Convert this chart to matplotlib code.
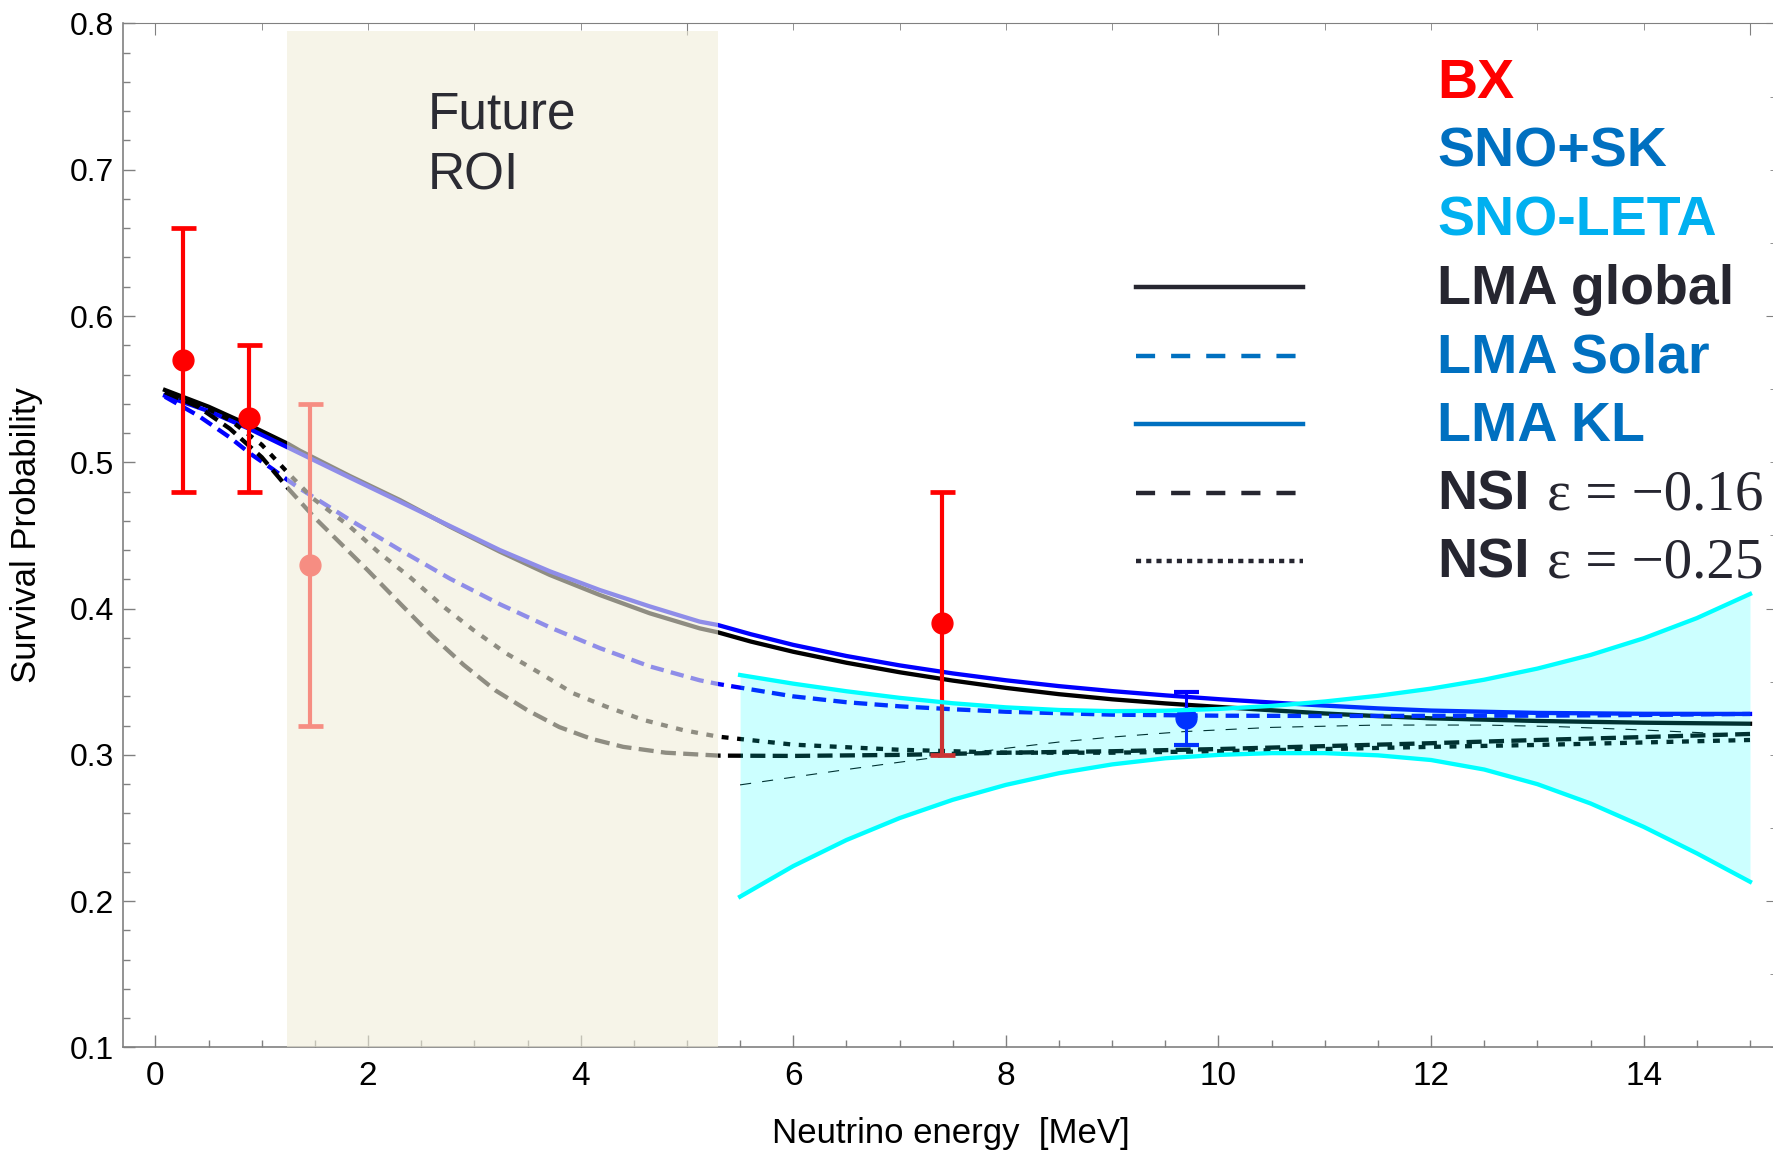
import matplotlib.pyplot as plt
from matplotlib.patches import Rectangle
from matplotlib.ticker import MultipleLocator

plt.rcParams["font.family"] = ["Liberation Sans", "DejaVu Sans"]
SERIF = ["Liberation Serif", "DejaVu Serif"]

# Survival probability curves, energy in MeV
lma_global_e = [0.09, 0.5, 0.88, 1.25, 1.36, 1.83, 2.3, 2.77, 3.24, 3.71, 4.18, 4.65, 5.12,
                5.29, 5.6, 6.0, 6.5, 7.0, 7.5, 8.0, 8.5, 9.0, 9.5, 10.0, 10.5, 11.0, 11.5,
                12.0, 13.0, 14.0, 15.0]
lma_global_p = [0.5494, 0.538, 0.5255, 0.5125, 0.5079, 0.4906, 0.4742, 0.456, 0.4389, 0.423,
                0.4093, 0.3968, 0.3865, 0.3838, 0.3775, 0.3705, 0.3630, 0.3565, 0.3508, 0.3458,
                0.3415, 0.3380, 0.3352, 0.3328, 0.3305, 0.3283, 0.3265, 0.3250, 0.3232, 0.3220,
                0.3213]

lma_kl_e = lma_global_e
lma_kl_p = [0.5455, 0.535, 0.523, 0.510, 0.5061, 0.4895, 0.4731, 0.4565, 0.440, 0.4255,
            0.4127, 0.4015, 0.3911, 0.3888, 0.3825, 0.3752, 0.3676, 0.3612, 0.3557, 0.3510,
            0.3470, 0.3436, 0.3407, 0.3381, 0.3358, 0.3337, 0.3318, 0.3303, 0.3287, 0.3281,
            0.3280]

lma_solar_e = [0.09, 0.4, 0.7, 0.9, 1.1, 1.25, 1.36, 1.83, 2.3, 2.77, 3.24, 3.71, 4.18, 4.65,
               5.12, 5.29, 6.0, 6.5, 7.0, 7.5, 8.0, 9.0, 10.0, 11.0, 12.0, 13.0, 14.0, 15.0]
lma_solar_p = [0.5448, 0.532, 0.517, 0.5055, 0.4955, 0.4875, 0.482, 0.4606, 0.4401, 0.4205,
               0.4030, 0.3872, 0.3730, 0.3605, 0.3510, 0.3485, 0.3400, 0.3360, 0.3332, 0.3312,
               0.3295, 0.3275, 0.3268, 0.3266, 0.3267, 0.3268, 0.3273, 0.3280]

nsi16_e = [0.09, 0.4, 0.7, 1.0, 1.25, 1.5, 1.75, 2.0, 2.3, 2.6, 2.9, 3.2, 3.5, 3.8, 4.1, 4.4,
           4.8, 5.3, 6.0, 7.0, 8.0, 9.0, 10.0, 11.0, 12.0, 13.0, 14.0, 15.0]
nsi16_p = [0.548, 0.538, 0.523, 0.5035, 0.482, 0.462, 0.444, 0.426, 0.4036, 0.3815, 0.3615,
           0.344, 0.3305, 0.319, 0.311, 0.3055, 0.3015, 0.2995, 0.2993, 0.3000, 0.3015, 0.3025,
           0.3040, 0.3060, 0.3080, 0.3102, 0.3122, 0.3143]

nsi25_e = [0.09, 0.4, 0.7, 1.0, 1.25, 1.48, 1.83, 2.11, 2.39, 2.71, 2.99, 3.30, 3.62, 3.93,
           4.24, 4.59, 4.96, 5.29, 6.0, 7.0, 8.0, 9.0, 10.0, 11.0, 12.0, 13.0, 14.0, 15.0]
nsi25_p = [0.548, 0.540, 0.529, 0.512, 0.4925, 0.4754, 0.456, 0.4378, 0.4218, 0.4013, 0.3854,
           0.3694, 0.3558, 0.3421, 0.3330, 0.3239, 0.3170, 0.3125, 0.3070, 0.3035, 0.3015,
           0.3015, 0.3025, 0.3040, 0.3055, 0.3068, 0.3085, 0.3102]

thin_e = [5.5, 6.0, 6.5, 7.0, 7.5, 8.0, 8.5, 9.0, 9.67, 10.5, 11.5, 12.5, 13.2, 14.0, 15.0]
thin_p = [0.2795, 0.2848, 0.2900, 0.2950, 0.2998, 0.3045, 0.3088, 0.3122, 0.3159, 0.3188,
          0.3204, 0.3204, 0.3193, 0.3170, 0.3136]

# SNO-LETA band
leta_e = [5.5, 6.0, 6.5, 7.0, 7.5, 8.0, 8.5, 9.0, 9.5, 10.0, 10.5, 11.0, 11.5, 12.0, 12.5,
          13.0, 13.5, 14.0, 14.5, 15.0]
leta_hi = [0.3546, 0.3487, 0.3435, 0.3390, 0.3353, 0.3325, 0.3307, 0.3299, 0.3302, 0.3314,
           0.3335, 0.3365, 0.3404, 0.3453, 0.3514, 0.3590, 0.3683, 0.3797, 0.3935, 0.4100]
leta_lo = [0.2031, 0.2240, 0.2418, 0.2568, 0.2693, 0.2795, 0.2875, 0.2935, 0.2977, 0.3000,
           0.3012, 0.3012, 0.2997, 0.2965, 0.2900, 0.2800, 0.2668, 0.2508, 0.2327, 0.2133]

# measurements
bx_e = [0.26, 0.88, 1.45, 7.40]
bx_p = [0.57, 0.53, 0.43, 0.39]
bx_err = [0.09, 0.05, 0.11, 0.09]
snosk_e = [9.69]
snosk_p = [0.325]
snosk_err = [0.018]

roi_e = [1.24, 5.29]
roi_p = [0.1, 0.795]

key_labels = ["BX", "SNO+SK", "SNO-LETA", "LMA global", "LMA Solar", "LMA KL", "NSI", "NSI"]
key_suffix = [None, None, None, None, None, None, "ε = −0.16", "ε = −0.25"]
key_colors = ["#FF0000", "#0070C0", "#00B0F0", "#262630", "#0070C0", "#0070C0", "#262630", "#262630"]

GRAY = "#808080"
LW = 3.1

fig = plt.figure(figsize=(17.73, 11.54), dpi=100)
ax = fig.add_axes([0.0695, 0.0923, 0.9333, 0.8874])
ax.set_xlim(-0.303, 15.263)
ax.set_ylim(0.1, 0.8)

ax.plot(lma_global_e, lma_global_p, color="black", lw=LW, zorder=2)
ax.plot(lma_solar_e, lma_solar_p, color="blue", lw=LW, dashes=(3.1, 1.7), zorder=2)
ax.plot(lma_kl_e, lma_kl_p, color="blue", lw=LW, zorder=2)
ax.plot(nsi16_e, nsi16_p, color="black", lw=LW, dashes=(3.5, 1.7), zorder=2)
ax.plot(nsi25_e, nsi25_p, color="black", lw=LW, dashes=(1.6, 2.0), zorder=2)
ax.plot(thin_e, thin_p, color="black", lw=0.8, dashes=(10, 10), zorder=2)

ax.errorbar(bx_e, bx_p, yerr=bx_err, fmt="o", color="red", ms=15,
            elinewidth=3.0, capsize=9, capthick=3.4, zorder=3)
ax.errorbar(snosk_e, snosk_p, yerr=snosk_err, fmt="o", color="blue", ms=15,
            elinewidth=2.2, capsize=9, capthick=3, zorder=3)

# shaded future region of interest, drawn over the curves
ax.add_patch(Rectangle((roi_e[0], roi_p[0]), roi_e[1] - roi_e[0], roi_p[1] - roi_p[0],
                       facecolor="#F0EDDA", edgecolor="none", alpha=0.6, zorder=4))
ax.text(2.566, 0.7283, "Future", fontsize=37, color="#2B2B33", va="baseline", zorder=5)
ax.text(2.566, 0.6866, "ROI", fontsize=37, color="#2B2B33", va="baseline", zorder=5)

ax.fill_between(leta_e, leta_lo, leta_hi, color="cyan", alpha=0.2, lw=0, zorder=4)
ax.plot(leta_e, leta_hi, color="cyan", lw=LW, zorder=5)
ax.plot(leta_e, leta_lo, color="cyan", lw=LW, zorder=5)

# key
key_x, key_y0, key_dy = 0.7939, 0.9271, 0.0669
samples = {
    3: dict(color="#262630"),
    4: dict(color="#0070C0", dashes=(4.3, 3.6)),
    5: dict(color="#0070C0"),
    6: dict(color="#262630", dashes=(4.3, 3.6)),
    7: dict(color="#262630", dashes=(1.15, 1.15)),
}
for i, (label, suffix, col) in enumerate(zip(key_labels, key_suffix, key_colors)):
    y = key_y0 - i * key_dy
    t = ax.text(key_x, y, label, transform=ax.transAxes, fontsize=40, fontweight="bold",
                color=col, va="baseline", zorder=6)
    if suffix:
        ax.annotate(suffix, xy=(1, y), xycoords=(t, ax.transAxes), xytext=(13, 0),
                    textcoords="offset points", fontsize=41, family=SERIF,
                    color=col, va="baseline", zorder=6)
    if i in samples:
        ax.plot([0.612, 0.713], [y + 0.016, y + 0.016], transform=ax.transAxes,
                lw=3.2, clip_on=False, zorder=6, **samples[i])

ax.xaxis.set_major_locator(MultipleLocator(2))
ax.xaxis.set_minor_locator(MultipleLocator(0.5))
ax.yaxis.set_major_locator(MultipleLocator(0.1))
ax.yaxis.set_minor_locator(MultipleLocator(0.02))
ax.tick_params(which="both", direction="in", color=GRAY, width=1, top=False, right=False)
ax.tick_params(which="major", length=8.5)
ax.tick_params(which="minor", length=5)
ax.tick_params(axis="x", labelsize=24, pad=10)
ax.tick_params(axis="y", labelsize=23, pad=6.5)

for side in ("left", "bottom"):
    ax.spines[side].set_color(GRAY)
    ax.spines[side].set_linewidth(1.2)
ax.spines["top"].set_visible(False)
ax.spines["right"].set_visible(False)

top = ax.secondary_xaxis("top")
top.xaxis.set_major_locator(MultipleLocator(5))
top.xaxis.set_minor_locator(MultipleLocator(1))
top.tick_params(which="both", direction="in", color=GRAY, labeltop=False)
top.tick_params(which="major", length=8.5)
top.tick_params(which="minor", length=5)
top.spines["top"].set_color(GRAY)

right = ax.secondary_yaxis("right")
right.yaxis.set_major_locator(MultipleLocator(0.2))
right.yaxis.set_minor_locator(MultipleLocator(0.05))
right.tick_params(which="both", direction="in", color=GRAY, labelright=False)
right.tick_params(which="major", length=9)
right.tick_params(which="minor", length=5.5)
right.spines["right"].set_color(GRAY)

ax.set_xlabel("Neutrino energy  [MeV]", fontsize=25)
ax.xaxis.set_label_coords(0.5, -0.068)
ax.set_ylabel("Survival Probability", fontsize=25)
ax.yaxis.set_label_coords(-0.0485, 0.5)

fig.savefig("out.png", dpi=100)
